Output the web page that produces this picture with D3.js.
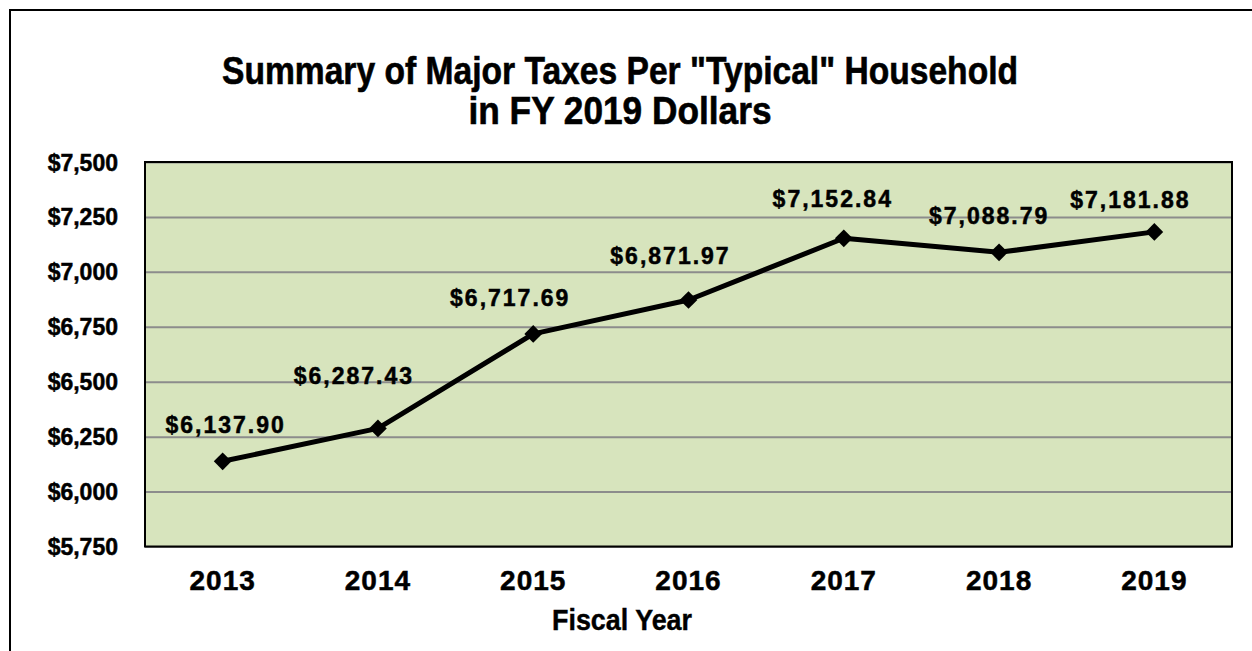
<!DOCTYPE html>
<html><head><meta charset="utf-8">
<script src="https://cdn.jsdelivr.net/npm/d3@7"></script>
<style>
html,body{margin:0;padding:0;background:#fff;}
svg{display:block;}
</style></head>
<body>
<svg id="chart" width="1252" height="651"></svg>
<script>
const years = ["2013","2014","2015","2016","2017","2018","2019"];
const values = [6137.90, 6287.43, 6717.69, 6871.97, 7152.84, 7088.79, 7181.88];
const yTicks = [5750, 6000, 6250, 6500, 6750, 7000, 7250, 7500];
const titleLines = ['Summary of Major Taxes Per "Typical" Household', 'in FY 2019 Dollars'];
const xTitle = "Fiscal Year";
// label nudges relative to the point (layout only)
const labelDx = [3, -24, -23, -18, -11, -10, -24];
const labelDy = [-28, -44, -28, -36, -31, -28, -24];

const svg = d3.select("#chart");
const m = {left:145, right:1232, top:162, bottom:546.5};

// outer frame (extends beyond page on right & bottom)
svg.append("rect").attr("x",10).attr("y",10).attr("width",1300).attr("height",700)
  .attr("fill","#fff").attr("stroke","#000").attr("stroke-width",2);

const x = d3.scaleBand().domain(years).range([m.left, m.right]).padding(0);
const y = d3.scaleLinear().domain([5750, 7500]).range([m.bottom, m.top]);

// plot background
svg.append("rect").attr("x",m.left).attr("y",m.top)
  .attr("width",m.right-m.left).attr("height",m.bottom-m.top)
  .attr("fill","#d7e4bd");

// gridlines
const grid = svg.append("g").attr("transform",`translate(${m.left},0)`)
  .call(d3.axisLeft(y).tickValues(yTicks).tickSize(-(m.right-m.left)).tickFormat(""));
grid.select(".domain").remove();
grid.selectAll("line").attr("stroke","#8c8c8c").attr("stroke-width",2);

// plot border
svg.append("rect").attr("x",m.left).attr("y",m.top)
  .attr("width",m.right-m.left).attr("height",m.bottom-m.top)
  .attr("fill","none").attr("stroke","#000").attr("stroke-width",2);

const bold = {"stroke":"#000","stroke-width":0.6,"paint-order":"stroke"};

// y axis labels
const yAx = svg.append("g").attr("transform",`translate(${m.left},0)`)
  .call(d3.axisLeft(y).tickValues(yTicks).tickSize(0).tickPadding(27)
    .tickFormat(d => "$" + d3.format(",")(d)));
yAx.select(".domain").remove();
yAx.selectAll("text").attr("font-family","'Liberation Sans', Arial, sans-serif")
  .attr("font-weight","bold").attr("font-size","23px").attr("fill","#000").attr("dy","0.35em")
  .attr("stroke","#000").attr("stroke-width",0.5);

// x axis labels
const xAx = svg.append("g").attr("transform",`translate(0,${m.bottom})`)
  .call(d3.axisBottom(x).tickSize(0).tickPadding(24));
xAx.select(".domain").remove();
xAx.selectAll("text").attr("font-family","'Liberation Sans', Arial, sans-serif")
  .attr("font-weight","bold").attr("font-size","28px").attr("fill","#000")
  .attr("letter-spacing","1px").attr("stroke","#000").attr("stroke-width",0.5);

// line
const cx = d => x(d) + x.bandwidth()/2;
const line = d3.line().x((d,i)=>cx(years[i])).y(d=>y(d));
svg.append("path").datum(values).attr("d",line)
  .attr("fill","none").attr("stroke","#000").attr("stroke-width",5).attr("stroke-linejoin","round");

// markers
svg.selectAll(".mk").data(values).enter().append("path")
  .attr("transform",(d,i)=>`translate(${cx(years[i])},${y(d)})`)
  .attr("d", d3.symbol().type(d3.symbolDiamond2).size(200))
  .attr("fill","#000");

// data labels
svg.selectAll(".lbl").data(values).enter().append("text")
  .attr("x",(d,i)=>cx(years[i]) + labelDx[i])
  .attr("y",(d,i)=>y(d) + labelDy[i])
  .attr("text-anchor","middle")
  .attr("font-family","'Liberation Sans', Arial, sans-serif")
  .attr("font-weight","bold").attr("font-size","23px").attr("letter-spacing","2px")
  .attr("fill","#000").attr("stroke","#000").attr("stroke-width",0.5)
  .text(d => "$" + d3.format(",.2f")(d));

// title
const tl = [ {t:titleLines[0], y:84, w:796}, {t:titleLines[1], y:124, w:303} ];
svg.selectAll(".title").data(tl).enter().append("text")
  .attr("x",620).attr("y",d=>d.y).attr("text-anchor","middle")
  .attr("font-family","'Liberation Sans Narrow', 'Liberation Sans', Arial, sans-serif")
  .attr("font-weight","bold").attr("font-size","38px").attr("fill","#000")
  .attr("stroke","#000").attr("stroke-width",0.6)
  .attr("textLength",d=>d.w).attr("lengthAdjust","spacingAndGlyphs")
  .text(d=>d.t);

// x title
svg.append("text").attr("x",622).attr("y",630).attr("text-anchor","middle")
  .attr("font-family","'Liberation Sans Narrow', 'Liberation Sans', Arial, sans-serif")
  .attr("font-weight","bold").attr("font-size","29px").attr("fill","#000")
  .attr("stroke","#000").attr("stroke-width",0.4)
  .attr("textLength",140).attr("lengthAdjust","spacingAndGlyphs")
  .text(xTitle);
</script>
</body></html>
